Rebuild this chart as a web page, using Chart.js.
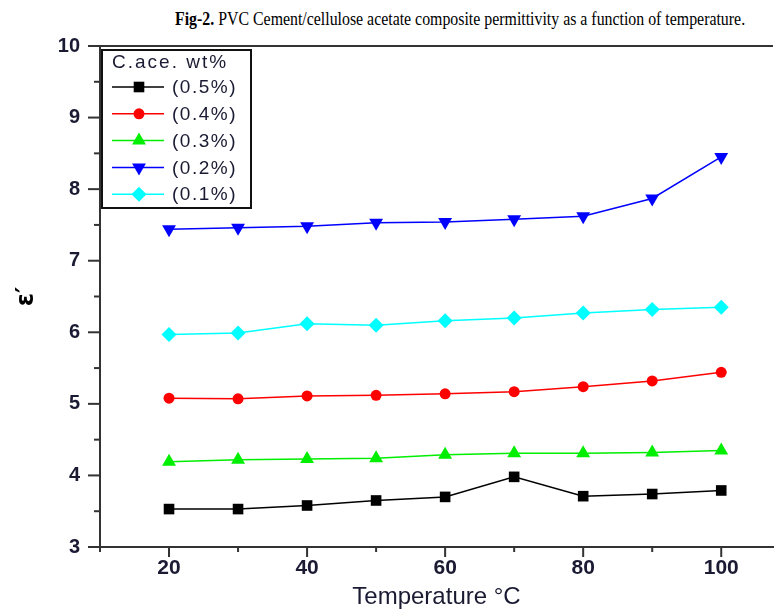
<!DOCTYPE html>
<html>
<head>
<meta charset="utf-8">
<script src="https://cdn.jsdelivr.net/npm/chart.js@4/dist/chart.umd.min.js"></script>
<style>
  html, body { margin: 0; padding: 0; background: #fff; }
  #wrap { position: relative; width: 781px; height: 613px; }
  #cap {
    position: absolute; top: 8px; left: 175px; white-space: nowrap;
    font-family: "Liberation Serif", "Times New Roman", serif; font-size: 19px;
    transform: scaleX(0.835); transform-origin: left top; color: #000;
  }
  canvas { position: absolute; left: 0; top: 0; }
</style>
</head>
<body>
<div id="wrap">
  <div id="cap"><b>Fig-2.</b> PVC Cement/cellulose acetate composite permittivity as a function of temperature.</div>
  <canvas id="grafico" width="781" height="613"></canvas>
</div>
<script>
// temperatura (°C) e permissividade para cada teor de acetato
var temps = [20, 30, 40, 50, 60, 70, 80, 90, 100];
var eps05 = [3.53, 3.53, 3.58, 3.65, 3.70, 3.98, 3.71, 3.74, 3.79];
var eps04 = [5.08, 5.07, 5.11, 5.12, 5.14, 5.17, 5.24, 5.32, 5.44];
var eps03 = [4.19, 4.22, 4.23, 4.24, 4.29, 4.31, 4.31, 4.32, 4.35];
var eps02 = [7.44, 7.46, 7.48, 7.53, 7.54, 7.58, 7.62, 7.87, 8.45];
var eps01 = [5.97, 5.99, 6.12, 6.10, 6.16, 6.20, 6.27, 6.32, 6.35];
var legendTitle = "C.ace. wt%";

function pts(vals) {
    return vals.map(function (v, i) { return { x: temps[i], y: v }; });
}

var series = [
    { label: "(0.5%)", data: eps05, color: "#000000", style: "rect", radius: 7.5, rot: 0 },
    { label: "(0.4%)", data: eps04, color: "#ff0000", style: "circle", radius: 5.5, rot: 0 },
    { label: "(0.3%)", data: eps03, color: "#00ee00", style: "triangle", radius: 8, rot: 0 },
    { label: "(0.2%)", data: eps02, color: "#0000ff", style: "triangle", radius: 8, rot: 180 },
    { label: "(0.1%)", data: eps01, color: "#00ffff", style: "rectRot", radius: 7.5, rot: 0 }
];

var datasets = series.map(function (s) {
    return {
        label: s.label,
        data: pts(s.data),
        borderColor: s.color,
        backgroundColor: s.color,
        borderWidth: 1.5,
        pointStyle: s.style,
        pointRadius: s.radius,
        pointRotation: s.rot,
        pointBorderWidth: 0,
        tension: 0
    };
});

function line(ctx, x1, y1, x2, y2) {
    ctx.beginPath(); ctx.moveTo(x1, y1); ctx.lineTo(x2, y2); ctx.stroke();
}

// ticks menores, moldura superior e legenda estilo Origin
var moldura = {
    id: 'moldura',
    afterDraw: function (chart) {
        var ctx = chart.ctx, a = chart.chartArea, x = chart.scales.x, y = chart.scales.y;
        ctx.save();
        ctx.strokeStyle = '#333';
        ctx.lineWidth = 2;
        for (var v = 3; v <= 10; v += 0.5) {
            var py = y.getPixelForValue(v);
            line(ctx, a.left - (v % 1 === 0 ? 12 : 6), py, a.left, py);
        }
        for (var t = 10; t <= 100; t += 10) {
            var px = x.getPixelForValue(t);
            line(ctx, px, a.bottom, px, a.bottom + (t % 20 === 0 ? 10 : 5));
        }
        line(ctx, a.left, a.top, a.right, a.top);

        // legenda
        var bx = a.left + 2, by = a.top + 4, bw = 149, bh = 158;
        ctx.fillStyle = '#fff';
        ctx.fillRect(bx, by, bw, bh);
        ctx.strokeStyle = '#111';
        ctx.lineWidth = 2;
        ctx.strokeRect(bx, by, bw, bh);
        ctx.font = '19px "Liberation Sans", Arial, sans-serif';
        ctx.letterSpacing = '2px';
        ctx.textBaseline = 'middle';
        ctx.fillStyle = '#1a1a33';
        ctx.fillText(legendTitle, bx + 10, by + 13);
        ctx.letterSpacing = '1.5px';
        series.forEach(function (s, i) {
            var ly = by + 37 + i * 26.8;
            ctx.strokeStyle = s.color;
            ctx.lineWidth = 1.5;
            line(ctx, bx + 10, ly, bx + 62, ly);
            ctx.fillStyle = s.color;
            Chart.helpers.drawPoint(ctx, {
                pointStyle: s.style, radius: s.radius, rotation: s.rot, borderWidth: 0
            }, bx + 37, ly);
            ctx.fillStyle = '#1a1a33';
            ctx.fillText(s.label, bx + 70, ly + 1);
        });
        ctx.restore();
    }
};

var ctx = document.getElementById('grafico').getContext('2d');
var chart = new Chart(ctx, {
    type: 'line',
    data: { datasets: datasets },
    options: {
        responsive: false,
        animation: false,
        layout: { padding: { top: 46, left: 0, right: 0, bottom: 0 } },
        plugins: { legend: { display: false }, tooltip: { enabled: false } },
        scales: {
            x: {
                type: 'linear',
                min: 10,
                max: 107.5,
                afterFit: function (s) { s.height = 66; },
                grid: { display: false, drawTicks: false },
                border: { display: true, color: '#333', width: 2 },
                ticks: {
                    stepSize: 10,
                    includeBounds: false,
                    autoSkip: false,
                    maxRotation: 0,
                    padding: 9,
                    color: '#1a1a33',
                    font: { family: '"Liberation Sans", Arial, sans-serif', size: 21, weight: 'bold' },
                    callback: function (v) { return (v % 20 === 0) ? v : ''; }
                },
                title: {
                    display: true,
                    text: 'Temperature \u00B0C',
                    color: '#1a1a33',
                    font: { family: '"Liberation Sans", Arial, sans-serif', size: 24 },
                    padding: { top: 0, bottom: 1 }
                }
            },
            y: {
                min: 3,
                max: 10,
                afterFit: function (s) { s.width = 100; },
                grid: { display: false, drawTicks: false },
                border: { display: true, color: '#333', width: 2 },
                ticks: {
                    stepSize: 1,
                    padding: 20,
                    color: '#1a1a33',
                    font: { family: '"Liberation Sans", Arial, sans-serif', size: 20, weight: 'bold' }
                },
                title: {
                    display: true,
                    text: '\u03B5\u2032',
                    color: '#000',
                    font: { family: '"DejaVu Sans", sans-serif', size: 24, weight: 'bold' },
                    padding: { top: 12, bottom: 0 }
                }
            }
        }
    },
    plugins: [moldura]
});
</script>
</body>
</html>
